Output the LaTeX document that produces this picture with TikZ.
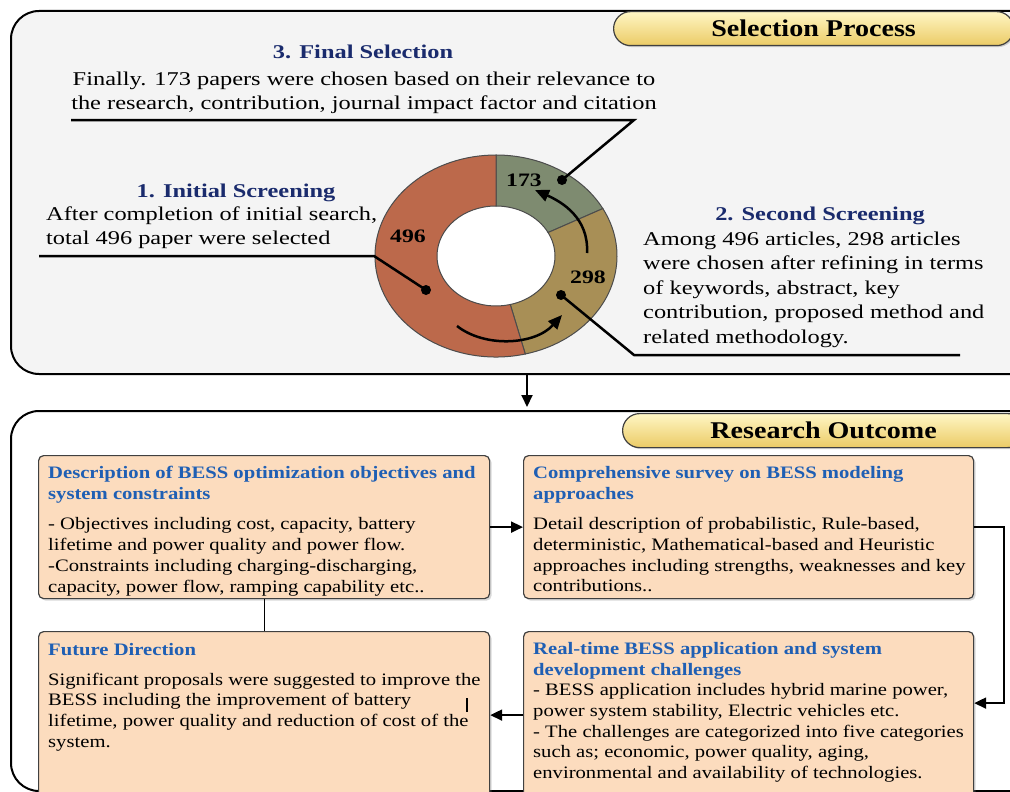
\documentclass[tikz,border=0pt]{standalone}
\usepackage{fontspec}
\setmainfont{Liberation Serif}
\newfontfamily\topfont{Liberation Serif}[FakeStretch=1.25]
\newfontfamily\boxfont{Liberation Serif}[FakeStretch=1.18]
\newfontfamily\bannerfont{Liberation Serif}[FakeStretch=1.17]
\usetikzlibrary{arrows.meta, positioning, calc, shadows}

\definecolor{panelgray}{HTML}{F4F4F4}
\definecolor{navytitle}{HTML}{1A2B6D}
\definecolor{bluetitle}{HTML}{1F5FB4}
\definecolor{peach}{HTML}{FCDCBE}
\definecolor{bannertop}{HTML}{FFF6C4}
\definecolor{bannerbot}{HTML}{EBCB66}
\definecolor{seg496}{HTML}{BC694B}
\definecolor{seg298}{HTML}{A88F56}
\definecolor{seg173}{HTML}{7E8B70}

\newcommand\headline[1]{\textcolor{bluetitle}{\bfseries #1}}

\begin{document}
\begin{tikzpicture}[x=1pt,y=-1pt]
        \tikzset{
            panel/.style={draw, line width=2pt, rounded corners=28pt, anchor=north west, inner sep=0pt},
            banner/.style={draw=black!75, line width=1.2pt, rounded corners=17pt, top color=bannertop,
                bottom color=bannerbot, anchor=north west, minimum height=34pt, inner sep=0pt,
                drop shadow={opacity=0.35, shadow xshift=1.5pt, shadow yshift=-1.5pt},
                font=\bannerfont\fontsize{24}{24}\selectfont\bfseries},
            leader/.style={line width=2.5pt},
            conn/.style={line width=2pt, -{Triangle[length=12pt,width=11pt]}},
            curvearrow/.style={line width=2.5pt, -{Triangle[length=14pt,width=12pt]}},
            seg/.style={draw=black!70, line width=1pt},
            toptitle/.style={text=navytitle, inner sep=0pt, font=\topfont\fontsize{19.5}{24.5}\selectfont\bfseries},
            toptext/.style={inner sep=0pt, font=\topfont\fontsize{19.5}{24.5}\selectfont},
            numlabel/.style={inner sep=0pt, font=\topfont\fontsize{19}{19}\selectfont\bfseries},
            outbox/.style={draw=black!75, line width=1.2pt, fill=peach, rounded corners=5pt, anchor=north west, inner sep=0pt,
                drop shadow={opacity=0.3, shadow xshift=2pt, shadow yshift=-2pt}},
            boxtext/.style={align=left, anchor=north west, inner sep=0pt, font=\boxfont\fontsize{17.5}{20.7}\selectfont}
        }

        \useasboundingbox (0,0) rectangle (1010,792);

        \node[panel, fill=panelgray, minimum width=1030pt, minimum height=363pt] (selection) at (10,10) {};
        \node[panel, fill=white, minimum width=1030pt, minimum height=380pt] (outcome) at (10,410) {};
        \node[banner, minimum width=400pt] (selbanner) at (613,11) {Selection Process};
        \node[banner, minimum width=402pt] (outbanner) at (622,413) {Research Outcome};

        \coordinate (arrx) at (527,0);
        \draw[conn] (selection.south -| arrx) -- ([yshift=3pt]outcome.north -| arrx);

        % ring of paper counts
        \begin{scope}[shift={(496,256)}, yscale=-1]
            \fill[white] (0,0) ellipse [x radius=59, y radius=50];
            \foreach \a/\b/\col in {90/28/seg173, 28/-76/seg298, -76/-270/seg496}
                \filldraw[seg, fill=\col] (\a:121 and 101) arc[start angle=\a, end angle=\b, x radius=121, y radius=101]
                    -- (\b:59 and 50) arc[start angle=\b, end angle=\a, x radius=59, y radius=50] -- cycle;
        \end{scope}

        \node[numlabel] (n173) at (524,180) {173};
        \node[numlabel] (n496) at (408,236) {496};
        \node[numlabel] (n298) at (588,277) {298};

        \coordinate (d173) at (562,180);
        \coordinate (d496) at (426,290);
        \coordinate (d298) at (561,295);
        \foreach \pt in {d173, d496, d298}
            \fill[black] (\pt) circle (5);

        \draw[curvearrow] (587,253) .. controls (589,218) and (562,202) .. (535,190);
        \draw[curvearrow] (457,326) .. controls (485,348) and (535,345) .. (562,315);

        \node[toptitle, anchor=base] (finaltitle) at (363,59) {3. Final Selection};
        \node[toptext, anchor=north, align=center] (finaltext) at (364,71.5)
            {Finally. 173 papers were chosen based on their relevance to\\the research, contribution, journal impact factor and citation};
        \node[toptitle, anchor=base] (inittitle) at (236,197) {1. Initial Screening};
        \node[toptext, anchor=north west, align=left] (inittext) at (46,206.5)
            {After completion of initial search,\\total 496 paper were selected};
        \node[toptitle, anchor=base] (sectitle) at (820,220) {2. Second Screening};
        \node[toptext, anchor=north west, align=left] (sectext) at (643,231.5)
            {Among 496 articles, 298 articles\\were chosen after refining in terms\\of keywords, abstract, key\\contribution, proposed method and\\related methodology.};

        \coordinate (u3a) at (71,120);
        \coordinate (u3b) at (634,120);
        \coordinate (u1a) at (39,256);
        \coordinate (u1b) at (374,256);
        \coordinate (u2a) at (634,355);
        \coordinate (u2b) at (960,355);
        \draw[leader] (u3a) -- (u3b) -- (d173);
        \draw[leader] (u1a) -- (u1b) -- (d496);
        \draw[leader] (d298) -- (u2a) -- (u2b);

        \node[outbox, minimum width=451pt, minimum height=143pt] (obj) at (38,455) {};
        \node[outbox, minimum width=450pt, minimum height=143pt] (model) at (523,455) {};
        \node[outbox, minimum width=451pt, minimum height=175pt] (future) at (38,631) {};
        \node[outbox, minimum width=450pt, minimum height=175pt] (realtime) at (523,631) {};

        \node[boxtext] (objtext) at ([shift={(10,11)}]obj.north west)
            {\headline{Description of BESS optimization objectives and}\\\headline{system constraints}\\[10pt]
             - Objectives including cost, capacity, battery\\lifetime and power quality and power flow.\\
             -Constraints including charging-discharging,\\capacity, power flow, ramping capability etc..};
        \node[boxtext] (modeltext) at ([shift={(10,11)}]model.north west)
            {\headline{Comprehensive survey on BESS modeling}\\\headline{approaches}\\[10pt]
             Detail description of probabilistic, Rule-based,\\deterministic, Mathematical-based and Heuristic\\
             approaches including strengths, weaknesses and key\\contributions..};
        \node[boxtext] (futuretext) at ([shift={(10,12)}]future.north west)
            {\headline{Future Direction}\\[9pt]
             Significant proposals were suggested to improve the\\BESS including the improvement of battery\\
             lifetime, power quality and reduction of cost of the\\system.};
        \node[boxtext] (realtext) at ([shift={(10,11)}]realtime.north west)
            {\headline{Real-time BESS application and system}\\\headline{development challenges}\\
             - BESS application includes hybrid marine power,\\power system stability, Electric vehicles etc.\\
             - The challenges are categorized into five categories\\such as; economic, power quality, aging,\\
             environmental and availability of technologies.};

        \draw[line width=1.2pt] (467,698) -- (467,712);

        \draw[conn] (obj.east) -- (model.west);
        \draw[conn] (model.east) -- ++(30,0) |- ([yshift=16pt]realtime.east);
        \draw[conn] ([yshift=4pt]realtime.west) -- ([yshift=4pt]future.east);
        \draw[line width=1.2pt] (obj.south) -- (future.north);
\end{tikzpicture}
\end{document}
